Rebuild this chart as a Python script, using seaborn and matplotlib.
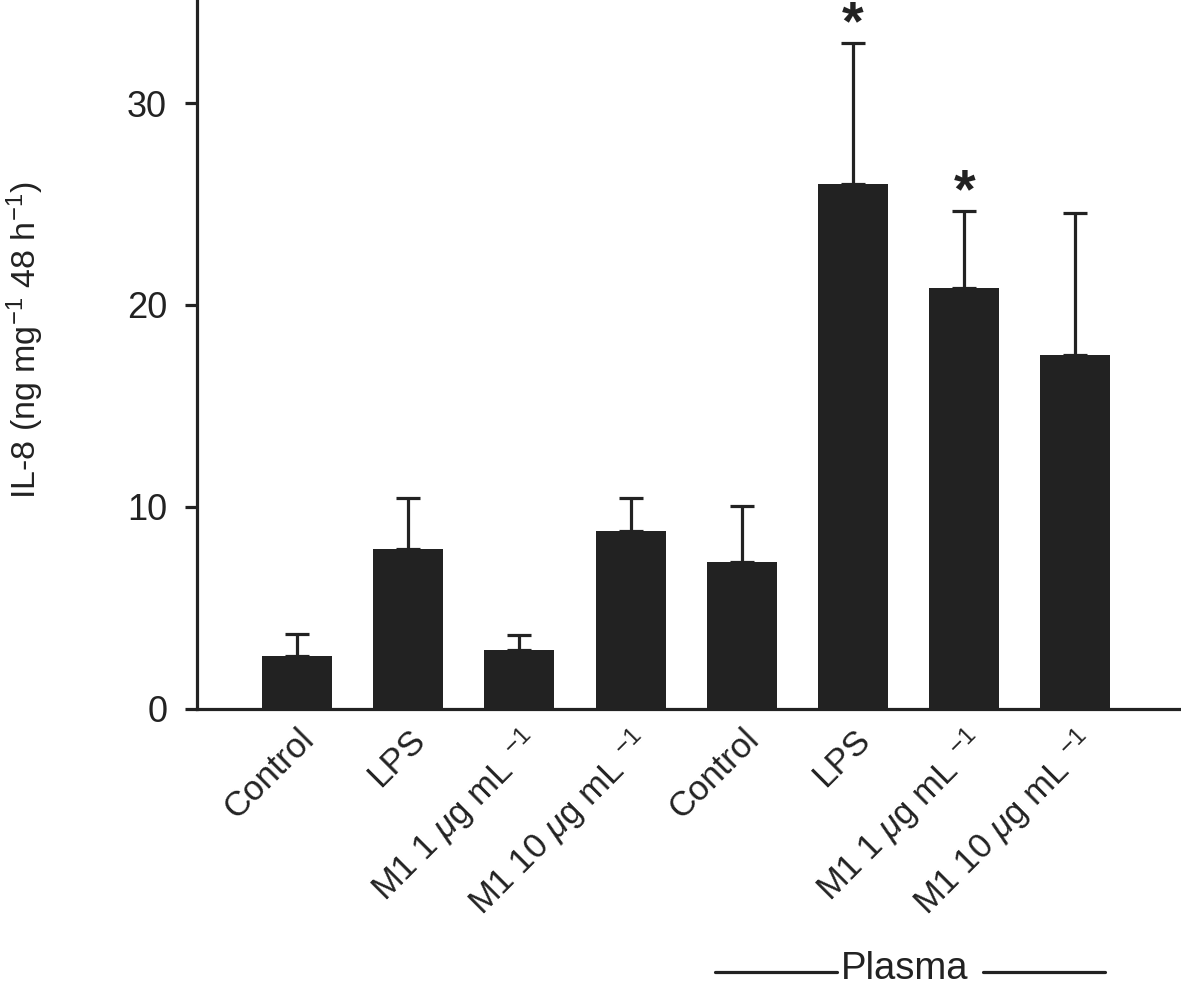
import matplotlib
matplotlib.use("Agg")
import matplotlib.pyplot as plt
from matplotlib.lines import Line2D
import seaborn as sns
import pandas as pd
import numpy as np

# ---- data ----
keys = ["ctrl", "lps", "m1_1", "m1_10", "p_ctrl", "p_lps", "p_m1_1", "p_m1_10"]
tick_labels = ["Control", "LPS", r"M1 1 $\mu$g mL $^{-1}$", r"M1 10 $\mu$g mL $^{-1}$",
               "Control", "LPS", r"M1 1 $\mu$g mL $^{-1}$", r"M1 10 $\mu$g mL $^{-1}$"]
means = [2.63, 7.93, 2.90, 8.80, 7.27, 26.0, 20.84, 17.5]
errors = [1.09, 2.52, 0.74, 1.65, 2.80, 6.97, 3.80, 7.07]
significant = [False, False, False, False, False, True, True, False]
yticks = [0, 10, 20, 30]
ylabel = r"IL-8 (ng mg$^{-1}$ 48 h$^{-1}$)"
group_label = "Plasma"

sns.set_theme(style="white")
plt.rcParams["font.family"] = ["Liberation Sans", "DejaVu Sans"]
plt.rcParams["mathtext.fontset"] = "custom"
plt.rcParams["mathtext.rm"] = "Liberation Sans"
plt.rcParams["mathtext.it"] = "Liberation Sans:italic"

dark = "#222222"
df = pd.DataFrame({"key": keys, "mean": means})

fig = plt.figure(figsize=(11.81, 9.86), dpi=100)
ax = fig.add_axes([0.1668, 0.281, 0.8332, 0.719])

sns.barplot(data=df, x="key", y="mean", order=keys, color=dark, saturation=1,
            width=0.63, ax=ax, edgecolor=dark, linewidth=0)

xs = np.arange(len(keys))
ax.errorbar(xs, means, yerr=[np.zeros(len(errors)), errors], fmt="none",
            ecolor=dark, elinewidth=2.3, capsize=8.5, capthick=2.3, zorder=1)

for x, m, e, s in zip(xs, means, errors, significant):
    if s:
        ax.text(x, m + e + 0.2, "*", ha="center", va="baseline", fontsize=40,
                fontweight="bold", color=dark, clip_on=False)

ax.set_xlim(-0.9, 7.95)
ax.set_ylim(0, 35.1)
ax.set_yticks(yticks)
ax.set_yticklabels([str(t) for t in yticks], fontsize=26, color=dark)
ax.set_xticks(xs)
ax.set_xticklabels(tick_labels, rotation=45, ha="right", rotation_mode="anchor",
                   fontsize=25, color=dark)
ax.set_xlabel("")
ax.set_ylabel(ylabel, fontsize=24.5, color=dark)
ax.yaxis.set_label_coords(-0.153, 0.52)

for side in ["top", "right"]:
    ax.spines[side].set_visible(False)
for side in ["left", "bottom"]:
    ax.spines[side].set_color(dark)
    ax.spines[side].set_linewidth(2.3)
ax.tick_params(axis="y", direction="out", length=8.5, width=2.3, color=dark, left=True, pad=13)
ax.tick_params(axis="x", length=0, pad=10)

# group bracket
y_text = 1 - 979 / 986
fig.text(905 / 1181, y_text, group_label, ha="center", va="baseline",
         fontsize=27.5, color=dark)
y_line = 1 - 972 / 986
fig.add_artist(Line2D([715 / 1181, 837 / 1181], [y_line, y_line], color=dark, lw=2.3))
fig.add_artist(Line2D([983 / 1181, 1105 / 1181], [y_line, y_line], color=dark, lw=2.3))

fig.savefig("out.png", dpi=100)
